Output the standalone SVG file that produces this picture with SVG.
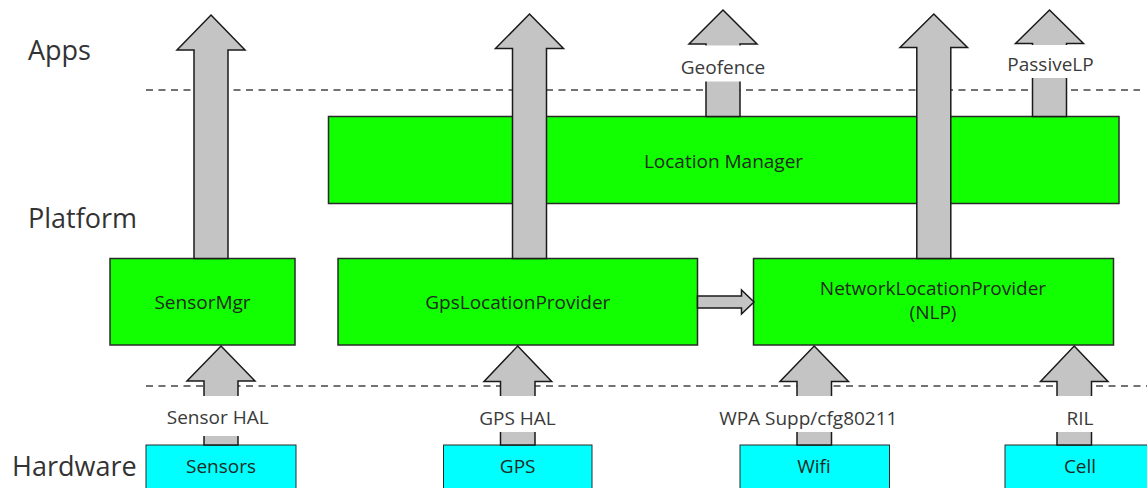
<svg xmlns="http://www.w3.org/2000/svg" width="1147" height="488" viewBox="0 0 1147 488">
  <style>
    .layer { font-family: "Open Sans", "DejaVu Sans", sans-serif; font-size: 27px; fill: #333; }
    .box { fill: #11ff00; stroke: #2a2a2a; stroke-width: 1.5; }
    .hw { fill: #00ffff; stroke: #2a2a2a; stroke-width: 1; }
    .txt { font-family: "Open Sans", "DejaVu Sans", sans-serif; font-size: 19px; fill: #1e2a1e; text-anchor: middle; }
    .lbl { font-family: "Open Sans", "DejaVu Sans", sans-serif; font-size: 19px; fill: #3a3a3a; text-anchor: middle; }
    .arrow { fill: #c4c4c4; stroke: #1a1a1a; stroke-width: 1.5; stroke-linejoin: miter; }
    .sep { stroke: #444; stroke-width: 1.5; stroke-dasharray: 7 5.5; fill: none; }
    .mask { fill: #ffffff; }
  </style>
  <rect width="1147" height="488" fill="#ffffff"/>

  <!-- layer titles -->
  <text class="layer" x="28" y="60">Apps</text>
  <text class="layer" x="28" y="228">Platform</text>
  <text class="layer" x="12" y="476">Hardware</text>

  <!-- layer separators -->
  <g id="separators">
    <line class="sep" x1="146" y1="90" x2="1140" y2="90"/>
    <line class="sep" x1="146" y1="386" x2="1147" y2="386"/>
  </g>

  <!-- platform components -->
  <g id="location-manager">
    <rect class="box" x="328.5" y="116.5" width="790.5" height="87"/>
    <text class="txt" x="723.5" y="168">Location Manager</text>
  </g>
  <g id="sensor-mgr">
    <rect class="box" x="110" y="258.5" width="185" height="86.5"/>
    <text class="txt" x="202.5" y="309">SensorMgr</text>
  </g>
  <g id="gps-location-provider">
    <rect class="box" x="338" y="258.5" width="359.5" height="86.5"/>
    <text class="txt" x="517.8" y="309">GpsLocationProvider</text>
  </g>
  <g id="network-location-provider">
    <rect class="box" x="753.5" y="258.5" width="360" height="86.5"/>
    <text class="txt" x="933" y="295">NetworkLocationProvider</text>
    <text class="txt" x="933" y="319">(NLP)</text>
  </g>

  <!-- hardware -->
  <g id="sensors">
    <rect class="hw" x="146" y="445" width="150" height="50"/>
    <text class="txt" x="221" y="473">Sensors</text>
  </g>
  <g id="gps">
    <rect class="hw" x="443.5" y="445" width="148.5" height="50"/>
    <text class="txt" x="517.7" y="473">GPS</text>
  </g>
  <g id="wifi">
    <rect class="hw" x="740" y="445" width="149.5" height="50"/>
    <text class="txt" x="814" y="473">Wifi</text>
  </g>
  <g id="cell">
    <rect class="hw" x="1005" y="445" width="150" height="50"/>
    <text class="txt" x="1080" y="473">Cell</text>
  </g>

  <!-- block arrows -->
  <g id="connectors">
    <!-- SensorMgr up to apps -->
    <polygon class="arrow" points="211,15 245,50 228,50 228,258.5 194,258.5 194,50 177,50"/>
    <!-- GpsLocationProvider up to apps -->
    <polygon class="arrow" points="529.5,14 563.5,48.5 546.5,48.5 546.5,258.5 512.5,258.5 512.5,48.5 495.5,48.5"/>
    <!-- NLP up to apps -->
    <polygon class="arrow" points="933.8,14 967.5,47.5 950.8,47.5 950.8,258.5 916.8,258.5 916.8,47.5 900,47.5"/>
    <!-- Location Manager: Geofence -->
    <polygon class="arrow" points="723,10 757,44 740,44 740,116.5 706,116.5 706,44 689,44"/>
    <!-- Location Manager: PassiveLP -->
    <polygon class="arrow" points="1049.5,10 1083.5,43.5 1066.5,43.5 1066.5,116.5 1032.5,116.5 1032.5,43.5 1015.5,43.5"/>
    <!-- GPS provider to NLP -->
    <polygon class="arrow" points="697.5,296 741.5,296 741.5,290 754,302 741.5,314 741.5,308 697.5,308"/>
    <!-- hardware to platform -->
    <polygon class="arrow" points="221,346 255,381 238,381 238,445 204,445 204,381 187,381"/>
    <polygon class="arrow" points="517.7,346 551.7,381.5 535,381.5 535,445 500.5,445 500.5,381.5 484,381.5"/>
    <polygon class="arrow" points="814.2,346 848.5,381.5 831.5,381.5 831.5,445 797,445 797,381.5 780,381.5"/>
    <polygon class="arrow" points="1074.2,346 1108,381.5 1091.5,381.5 1091.5,445 1057,445 1057,381.5 1040.5,381.5"/>

    <!-- labels carried on arrows -->
    <rect class="mask" x="676" y="45.5" width="94" height="36"/>
    <text class="lbl" x="723" y="74">Geofence</text>
    <rect class="mask" x="1003" y="45" width="94" height="33"/>
    <text class="lbl" x="1050.5" y="71">PassiveLP</text>
    <rect class="mask" x="162" y="396" width="112" height="40"/>
    <text class="lbl" x="217.7" y="424">Sensor HAL</text>
    <rect class="mask" x="475" y="396" width="85" height="36"/>
    <text class="lbl" x="517.5" y="425">GPS HAL</text>
    <rect class="mask" x="714" y="396" width="188" height="36"/>
    <text class="lbl" x="808.3" y="425">WPA Supp/cfg80211</text>
    <rect class="mask" x="1050" y="396" width="48" height="36"/>
    <text class="lbl" x="1080" y="425">RIL</text>
  </g>
</svg>
